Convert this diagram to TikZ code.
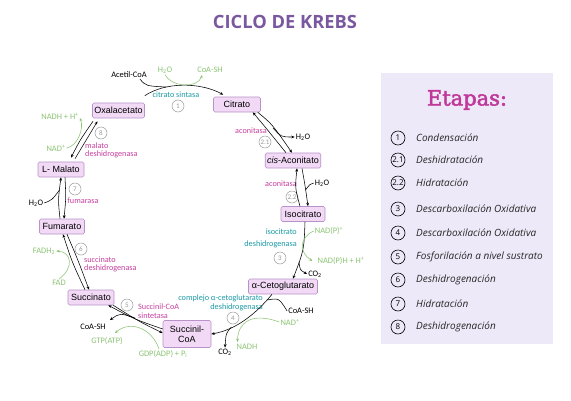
\documentclass[tikz,border=0pt]{standalone}
\usepackage{fontspec}
\usetikzlibrary{arrows.meta,calc}
\newfontfamily\boxfont{Liberation Sans}[ItalicFont=Liberation Sans Italic]
\newfontfamily\lblfont{Carlito}
\newfontfamily\listfont{Open Sans}
\newfontfamily\etfont{DejaVu Serif}[FakeBold=2.5]
\definecolor{ttl}{HTML}{7A58A0}
\definecolor{boxfill}{HTML}{F2DAF6}
\definecolor{boxdraw}{HTML}{B892C8}
\definecolor{panelbg}{HTML}{EEE9F8}
\definecolor{magc}{HTML}{C83FA0}
\definecolor{tealc}{HTML}{1B9AA6}
\definecolor{grnc}{HTML}{8CC474}
\definecolor{etc}{HTML}{C0399A}
\definecolor{grayc}{HTML}{9A9A9A}
\begin{document}
\begin{tikzpicture}[x=1pt,y=-1pt,
  boxn/.style={draw=boxdraw, fill=boxfill, line width=0.6pt, rounded corners=1.5pt,
    font=\boxfont\fontsize{9}{10}\selectfont, inner xsep=2pt, inner ysep=2pt, minimum height=15pt},
  lbl/.style={font=\lblfont\fontsize{8.4}{9}\selectfont, text=black, inner sep=1pt},
  grnl/.style={font=\lblfont\fontsize{8.4}{9}\selectfont, text=grnc, inner sep=1pt},
  mag/.style={font=\lblfont\fontsize{8.2}{9}\selectfont, text=magc, inner sep=0pt},
  tea/.style={font=\lblfont\fontsize{8.2}{9}\selectfont, text=tealc, inner sep=0pt},
  stc/.style={circle, draw=grayc, text=grayc, line width=0.5pt, minimum size=12pt, inner sep=0pt,
    font=\lblfont\fontsize{7}{8}\selectfont},
  lcirc/.style={circle, draw=black, line width=0.6pt, minimum size=14pt, inner sep=0pt,
    font=\listfont\fontsize{8}{9}\selectfont},
  litem/.style={anchor=west, font=\listfont\itshape\fontsize{10}{11}\selectfont, text=black!85, inner sep=0pt},
  ln/.style={line width=0.55pt, black},
  arw/.style={line width=0.55pt, -{Stealth[length=3.4pt,width=2.8pt]}},
  gl/.style={line width=0.55pt, grnc},
]
\useasboundingbox (0,0) rectangle (571,400);
\fill[white] (0,0) rectangle (571,400);

% title
\node[font=\listfont\bfseries\fontsize{18.3}{21}\selectfont, text=ttl] (title) at (285,22) {CICLO DE KREBS};

% metabolite boxes
\node[boxn, minimum width=47pt] (cit) at (237,104.5) {Citrato};
\node[boxn, minimum width=55pt] (cis) at (293,160.5) {\textit{cis}-Aconitato};
\node[boxn, minimum width=44pt] (iso) at (303,214) {Isocitrato};
\node[boxn, minimum width=69pt] (akg) at (283,286.5) {α-Cetoglutarato};
\node[boxn, minimum width=48pt, minimum height=27pt, align=center] (scoa) at (187,334) {Succinil-\\CoA};
\node[boxn, minimum width=46pt] (succ) at (91,297.5) {Succinato};
\node[boxn, minimum width=45pt] (fum) at (62,226.5) {Fumarato};
\node[boxn, minimum width=46pt] (mal) at (61,169.5) {L- Malato};
\node[boxn, minimum width=49pt] (oxa) at (118.5,110.5) {Oxalacetato};

% ---- step 1
\node[lbl] (acet) at (129,75) {Acetil-CoA};
\node[grnl] (h2oa) at (165,70) {H\textsubscript{2}O};
\node[grnl] (coaa) at (210,70) {CoA-SH};
\node[tea] (cs) at (176,95) {citrato sintasa};
\node[stc] (s1) at (178,106) {1};
\draw[arw] ([yshift=7pt]oxa.north east) .. controls (165,82) and (200,82) .. ([xshift=10pt,yshift=2pt]cit.north west);
\coordinate (m1) at (166,87);
\draw[ln] ([xshift=-8pt]acet.south east) .. controls (146,86) .. (m1);
\draw[gl, arw] (h2oa.south) .. controls (172,88) and (198,88) .. ([xshift=6pt,yshift=-1pt]coaa.south west);

% ---- step 2.1
\node[mag] (ac1) at (251,130.5) {aconitasa};
\node[stc] (s21) at (265,142) {2.1};
\node[lbl] (h2ob) at (303,137) {H\textsubscript{2}O};
\draw[arw] ([xshift=-3pt]cit.south east) .. controls (272,124) .. ([xshift=-1pt]cis.north);
\draw[arw] ([xshift=-7pt]cis.north) .. controls (266,128) .. ([xshift=-8pt]cit.south east);
\coordinate (m21) at (273,128);
\draw[arw] (m21) .. controls (281,137) .. (h2ob.west);

% ---- step 2.2
\node[mag] (ac2) at (281,183.5) {aconitasa};
\node[stc] (s22) at (292,197) {2.2};
\node[lbl] (h2oc) at (322,183) {H\textsubscript{2}O};
\draw[arw] ([xshift=-3pt]iso.north) .. controls (295,188) .. ([xshift=4pt]cis.south);
\draw[arw] ([xshift=9pt]cis.south) .. controls (305,185) .. ([xshift=5pt]iso.north);
\coordinate (m22) at (305.5,190);
\draw[ln] (h2oc.west) .. controls (310,184) .. (m22);

% ---- step 3
\node[tea, anchor=east] (idh1) at (297,232) {isocitrato};
\node[tea, anchor=east] (idh2) at (297,244) {deshidrogenasa};
\node[stc] (s3) at (280,258) {3};
\node[grnl] (nadp) at (329,231) {NAD(P)\textsuperscript{+}};
\node[grnl] (nadph) at (341,261) {NAD(P)H + H\textsuperscript{+}};
\node[lbl] (co2a) at (315,274) {CO\textsubscript{2}};
\draw[arw] ([xshift=2pt]iso.south) .. controls (304,250) .. ([xshift=10pt]akg.north);
\draw[gl, arw] (nadp.west) .. controls (299,238) and (299,252) .. ([xshift=-4pt]nadph.west);
\coordinate (m3) at (299,262);
\draw[arw] (m3) .. controls (300,270) .. (co2a.west);

% ---- step 4
\node[tea, anchor=east] (kg1) at (263,298) {complejo α-cetoglutarato};
\node[tea, anchor=east] (kg2) at (263,307) {deshidrogenasa};
\node[stc] (s4) at (233,318) {4};
\node[lbl] (coab) at (301,311) {CoA-SH};
\node[grnl] (nadb) at (290,322) {NAD\textsuperscript{+}};
\node[grnl] (nadhb) at (247,347) {NADH};
\node[lbl] (co2b) at (225,352) {CO\textsubscript{2}};
\draw[arw] ([xshift=-11pt]akg.south) .. controls (255,315) and (235,330) .. (scoa.east);
\coordinate (m4a) at (267,300);
\draw[ln] (m4a) .. controls (279,298) .. (coab.west);
\draw[gl, arw] (nadb.west) .. controls (252,312) and (238,322) .. ([xshift=2pt,yshift=1pt]nadhb.north west);
\coordinate (m4b) at (231.5,327);
\draw[arw] (m4b) .. controls (226,333) .. (co2b.north);

% ---- step 5
\node[mag, anchor=west] (sc1) at (138,307) {Succinil-CoA};
\node[mag, anchor=west] (sc2) at (138,315.5) {sintetasa};
\node[stc] (s5) at (127,305) {5};
\node[lbl] (coac) at (93,327) {CoA-SH};
\node[grnl] (gtp) at (107,341) {GTP(ATP)};
\node[grnl] (gdp) at (163,354) {GDP(ADP) + P\textsubscript{i}};
\draw[arw] ([yshift=5pt]scoa.west) .. controls (134,319) .. ([xshift=-6pt]succ.south east);
\draw[arw] ([xshift=-1pt]succ.south east) .. controls (140,322) .. ([yshift=1pt]scoa.west);
\coordinate (m5) at (135,318);
\draw[arw] (m5) .. controls (120,313) .. ([xshift=3pt,yshift=3pt]coac.north east);
\draw[gl, arw] ([xshift=-4pt]gdp.north) .. controls (152,328) and (130,320) .. ([xshift=8pt,yshift=3pt]gtp.north);

% ---- step 6
\node[mag, anchor=west] (sd1) at (84,260) {succinato};
\node[mag, anchor=west] (sd2) at (84,268.5) {deshidrogenasa};
\node[stc] (s6) at (81,249) {6};
\node[grnl] (fadh) at (44,251) {FADH\textsubscript{2}};
\node[grnl] (fad) at (59,283) {FAD};
\draw[arw] ([xshift=-6pt]succ.north) .. controls (72,262) .. ([xshift=1pt]fum.south);
\draw[arw] ([xshift=5pt]fum.south) .. controls (78,260) .. ([xshift=-2pt]succ.north);
\draw[gl, arw] (fad.north) .. controls (74,268) and (72,252) .. (fadh.east);

% ---- step 7
\node[mag] (fu) at (83,201) {fumarasa};
\node[stc] (s7) at (75,189) {7};
\node[lbl] (h2od) at (36,203) {H\textsubscript{2}O};
\draw[arw] ([xshift=-2pt]fum.north) .. controls (58,200) .. (mal.south);
\draw[arw] ([xshift=4pt]mal.south) .. controls (66,198) .. ([xshift=2pt]fum.north);
\coordinate (m7) at (59.5,190);
\draw[ln] (h2od.east) .. controls (52,200) .. (m7);

% ---- step 8
\node[mag, anchor=west] (md1) at (85,146) {malato};
\node[mag, anchor=west] (md2) at (85,154.5) {deshidrogenasa};
\node[stc] (s8) at (101,133) {8};
\node[grnl] (nadhc) at (60,116) {NADH + H\textsuperscript{+}};
\node[grnl] (nadc) at (56,148) {NAD\textsuperscript{+}};
\draw[arw] ([xshift=-25.5pt,yshift=-3pt]oxa.south) .. controls (80,140) .. ([xshift=10pt,yshift=4pt]mal.north);
\draw[arw] ([xshift=14pt,yshift=3pt]mal.north) .. controls (85,141) .. ([xshift=-21pt,yshift=-3pt]oxa.south);
\draw[gl, arw] (nadc.east) .. controls (78,146) and (84,128) .. ([yshift=-2pt]nadhc.east);

% ---- right panel
\node[fill=panelbg, minimum width=172pt, minimum height=271pt, inner sep=0pt] (panel) at (467,208.5) {};
\node[font=\etfont\fontsize{21}{24}\selectfont, text=etc] (etapas) at (467,100) {Etapas:};
\node[lcirc] (c1) at (398,138) {1};
\node[litem] (t1) at (416,138) {Condensación};
\node[lcirc] (c2) at (398,160) {2.1};
\node[litem] (t2) at (416,160) {Deshidratación};
\node[lcirc] (c3) at (398,183) {2.2};
\node[litem] (t3) at (416,183) {Hidratación};
\node[lcirc] (c4) at (398,209) {3};
\node[litem] (t4) at (416,209) {Descarboxilación Oxidativa};
\node[lcirc] (c5) at (398,233) {4};
\node[litem] (t5) at (416,233) {Descarboxilación Oxidativa};
\node[lcirc] (c6) at (398,257) {5};
\node[litem] (t6) at (416,257) {Fosforilación a nivel sustrato};
\node[lcirc] (c7) at (398,280) {6};
\node[litem] (t7) at (416,280) {Deshidrogenación};
\node[lcirc] (c8) at (398,304) {7};
\node[litem] (t8) at (416,304) {Hidratación};
\node[lcirc] (c9) at (398,327) {8};
\node[litem] (t9) at (416,327) {Deshidrogenación};
\end{tikzpicture}
\end{document}
